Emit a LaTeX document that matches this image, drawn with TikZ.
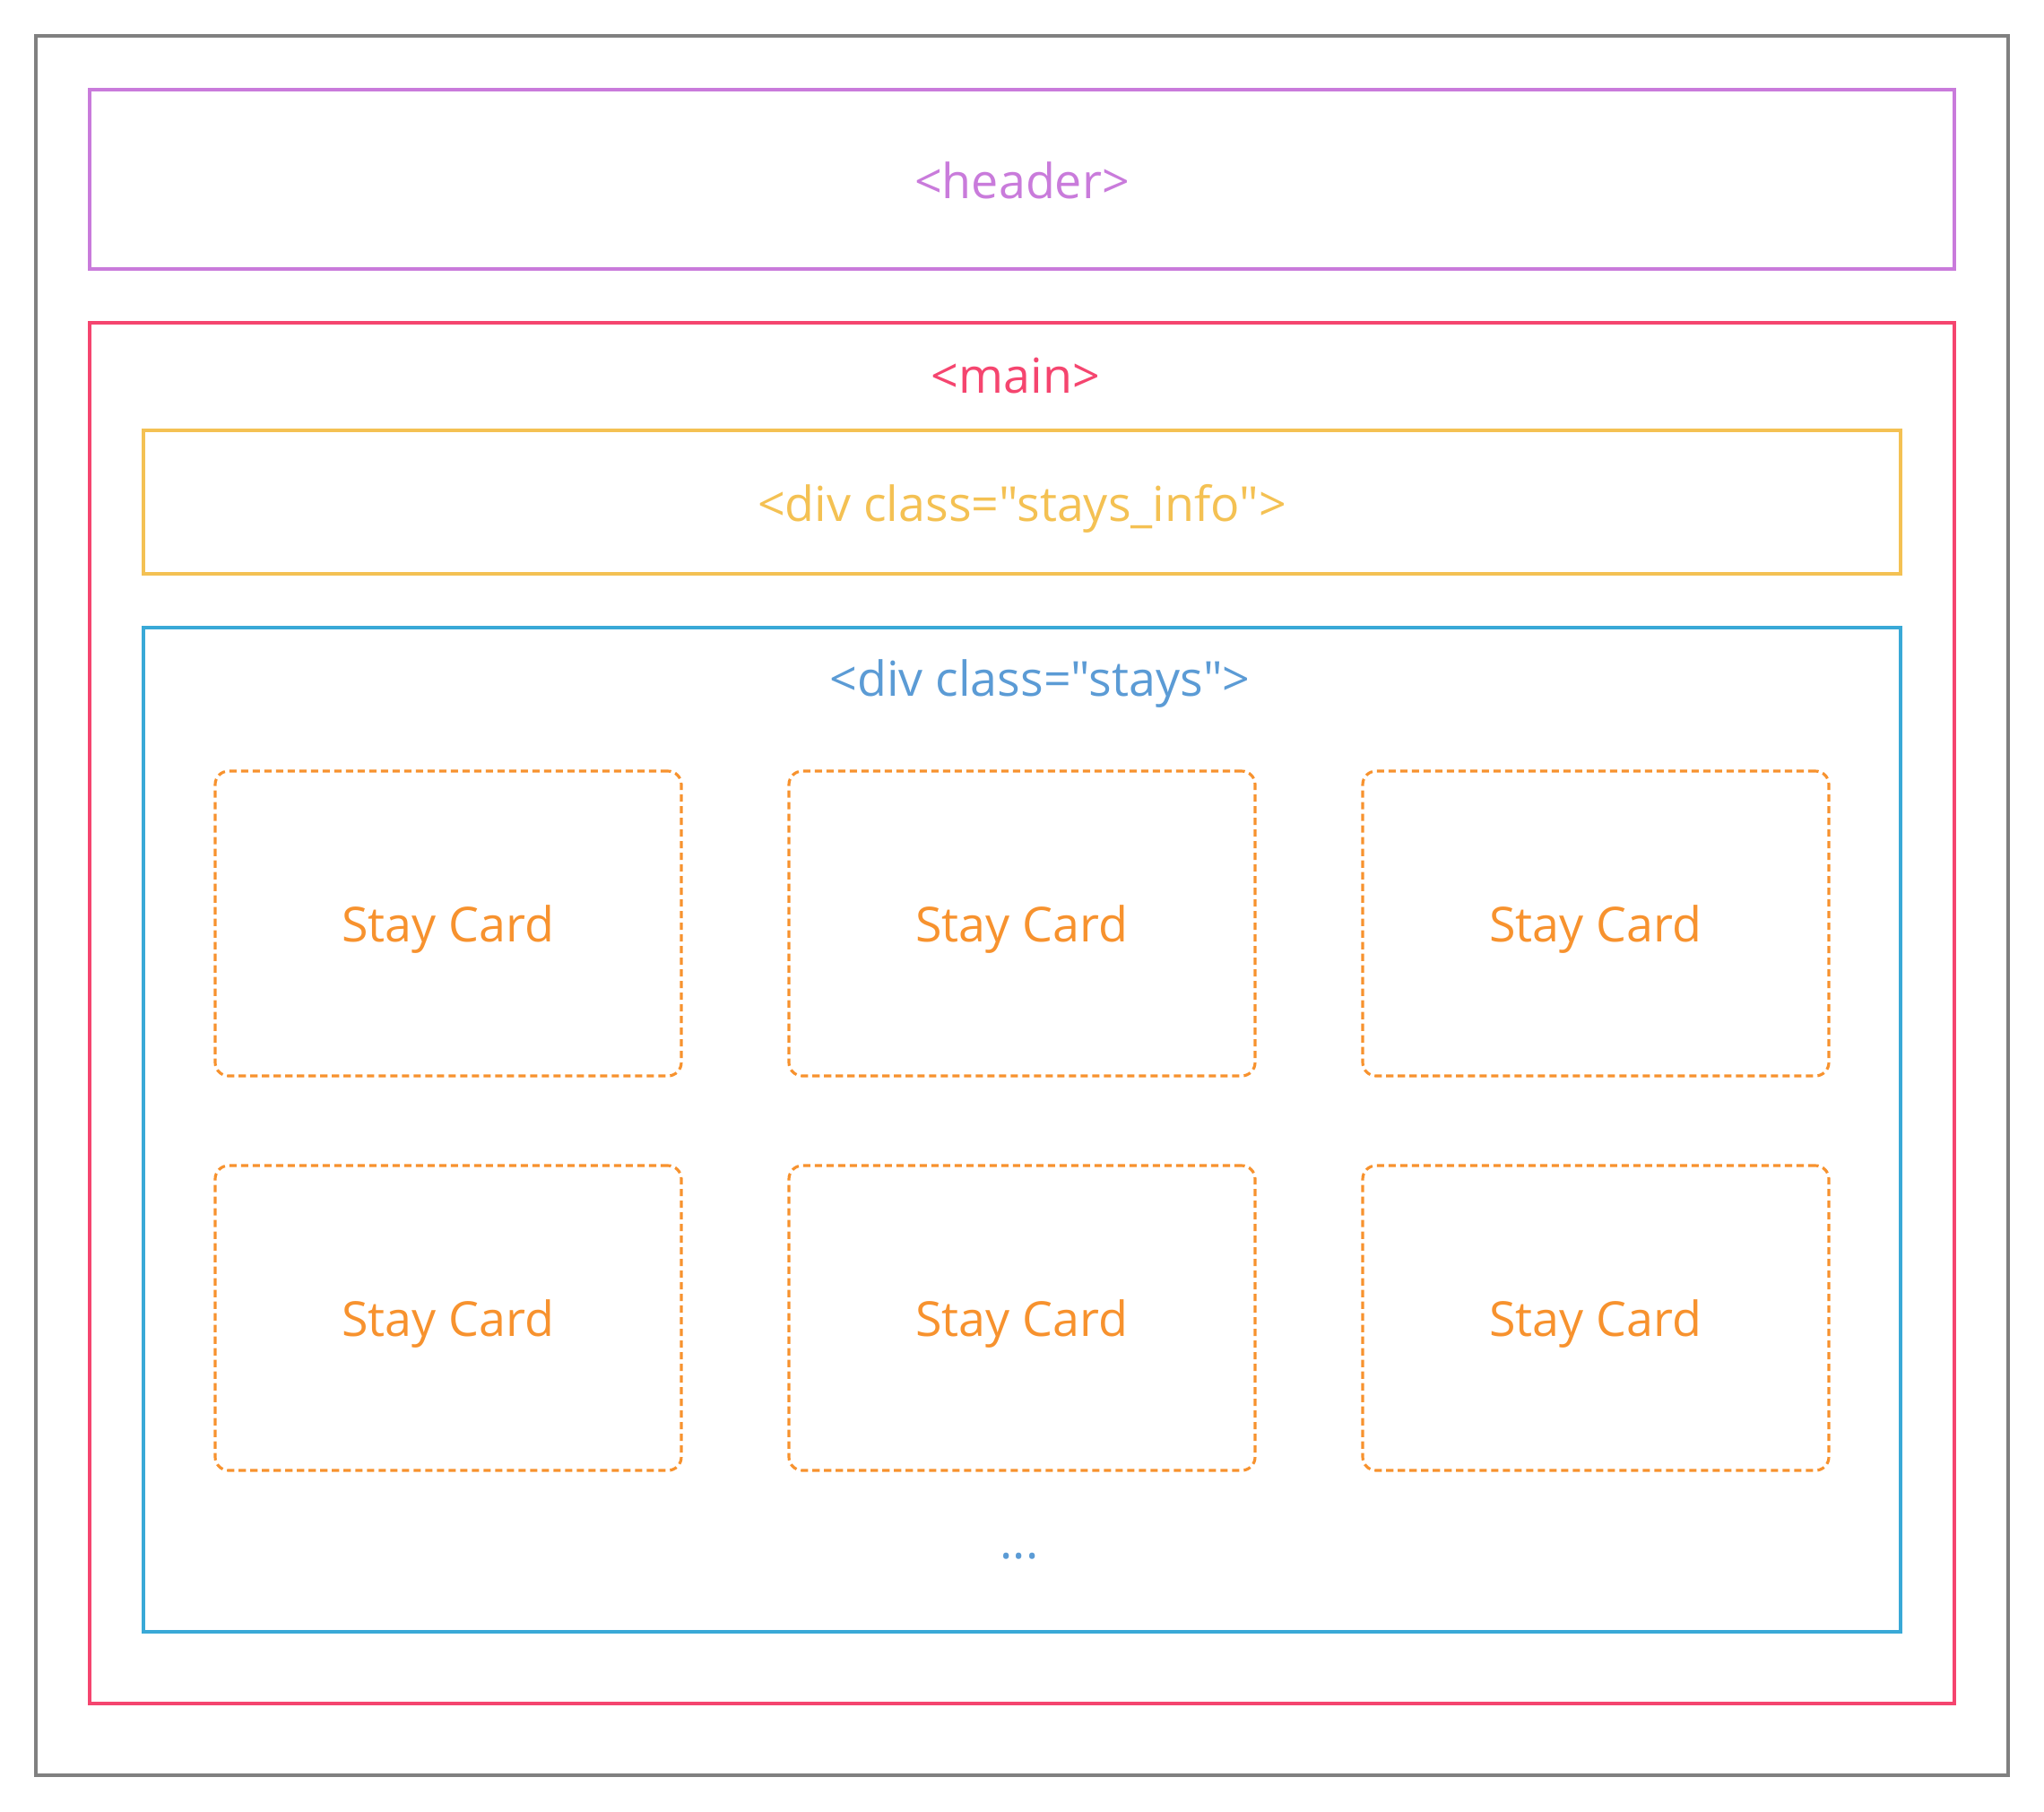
\documentclass[tikz,border=0pt]{standalone}
\usepackage{fontspec}
\setmainfont{Open Sans}[Ligatures=TeXOff]
\definecolor{pagegray}{HTML}{808080}
\definecolor{headerpurple}{HTML}{C97BDB}
\definecolor{mainred}{HTML}{F5456F}
\definecolor{infoyellow}{HTML}{F4C153}
\definecolor{staysline}{HTML}{39A9D7}
\definecolor{staystext}{HTML}{5B9BD5}
\definecolor{cardorange}{HTML}{F7922E}
\tikzset{
    frame/.style={line width=0.9pt},
    tag/.style={font=\fontsize{15.3}{18}\selectfont, inner sep=0pt},
    card/.style={draw=cardorange, line width=0.9pt, dash pattern=on 2.3pt off 1.4pt,
        rounded corners=0.15cm, minimum width=5.2cm, minimum height=3.4cm,
        text=cardorange, text depth=0pt, font=\fontsize{15.3}{18}\selectfont},
}
\begin{document}
\begin{tikzpicture}
    \useasboundingbox (0,0) rectangle (22.8,-20.2);
    \draw[frame, pagegray] (0.4,-0.4) rectangle (22.4,-19.8);
    % header
    \draw[frame, headerpurple] (1,-1) rectangle (21.8,-3);
    \node[tag, text=headerpurple] (header) at (11.4,-2.01) {<header>};
    % main
    \draw[frame, mainred] (1,-3.6) rectangle (21.8,-19);
    \node[tag, text=mainred] (main) at (11.33,-4.19) {<main>};
    \draw[frame, infoyellow] (1.6,-4.8) rectangle (21.2,-6.4);
    \node[tag, text=infoyellow] (info) at (11.4,-5.67) {<div class="stays\_info">};
    \draw[frame, staysline] (1.6,-7) rectangle (21.2,-18.2);
    \node[tag, text=staystext] (stays) at (11.6,-7.63) {<div class="stays">};
    % cards
    \node[card] (card1) at (5,-10.3) {Stay Card};
    \node[card] (card2) at (11.4,-10.3) {Stay Card};
    \node[card] (card3) at (17.8,-10.3) {Stay Card};
    \node[card] (card4) at (5,-14.7) {Stay Card};
    \node[card] (card5) at (11.4,-14.7) {Stay Card};
    \node[card] (card6) at (17.8,-14.7) {Stay Card};
    \node[tag, text=staystext] (more) at (11.37,-17.36) {...};
\end{tikzpicture}
\end{document}
